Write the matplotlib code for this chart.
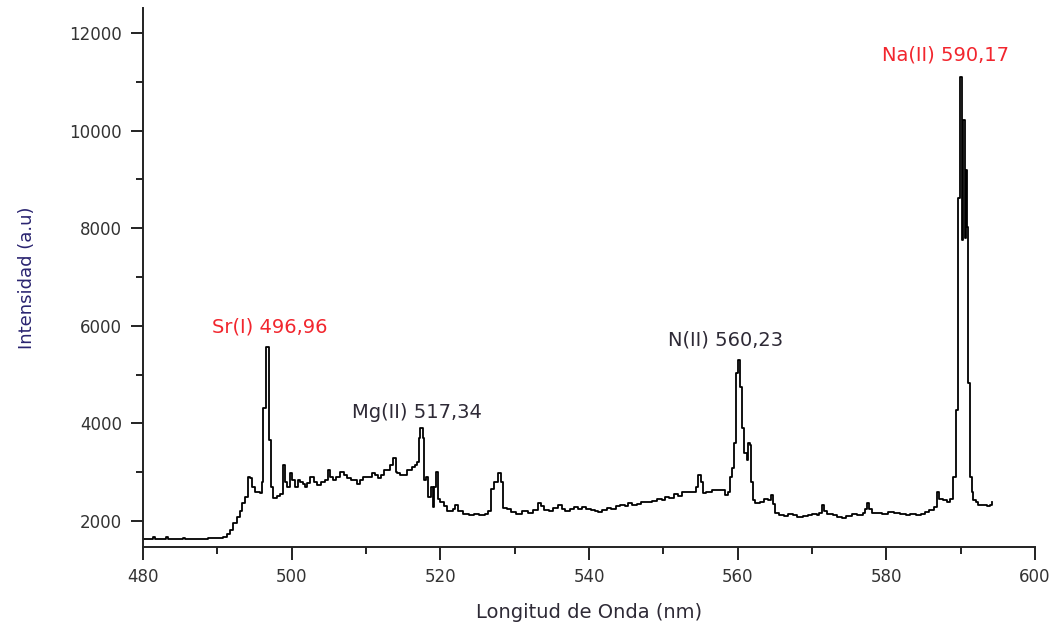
import matplotlib.pyplot as plt
from matplotlib.ticker import MultipleLocator

# ===== Spectrum (wavelength in nm, intensity in a.u.) =====
wavelength = [
    480.0, 481.2, 481.4, 481.6, 482.9, 483.1, 483.3, 485.2, 485.4, 485.6,
    487.0, 488.6, 488.8, 489.0, 490.0, 490.8, 491.3, 491.7, 492.1, 492.6,
    493.0, 493.3, 493.7, 494.1, 494.4, 494.7, 495.0, 495.7, 496.0, 496.2,
    496.5, 496.95, 497.2, 497.5, 498.0, 498.4, 498.8, 499.1, 499.4, 499.8,
    500.1, 500.4, 500.8, 501.1, 501.5, 501.8, 502.1, 502.5, 503.0, 503.4,
    504.0, 504.5, 504.9, 505.2, 505.6, 506.0, 506.5, 507.0, 507.4, 508.0,
    508.8, 509.2, 509.6, 510.2, 510.8, 511.2, 511.6, 512.0, 512.4, 512.8,
    513.2, 513.6, 514.0, 514.2, 514.6, 515.0, 515.5, 516.2, 516.6, 516.9,
    517.1, 517.3, 517.6, 517.8, 518.1, 518.4, 518.7, 519.0, 519.2, 519.4,
    519.7, 520.0, 520.5, 520.9, 521.3, 521.7, 522.0, 522.4, 523.0, 523.8,
    524.5, 525.2, 526.0, 526.4, 526.8, 527.2, 527.5, 527.8, 528.1, 528.4,
    529.0, 529.5, 530.2, 531.0, 531.8, 532.4, 533.1, 533.5, 534.0, 534.6,
    535.2, 535.8, 536.3, 536.8, 537.4, 538.0, 538.5, 539.0, 539.6, 540.2,
    540.8, 541.2, 541.8, 542.4, 543.0, 543.6, 544.2, 544.8, 545.2, 545.8,
    546.4, 547.0, 547.9, 548.5, 549.2, 549.8, 550.2, 550.8, 551.4, 552.0,
    552.5, 553.2, 553.9, 554.4, 554.7, 555.0, 555.3, 555.8, 556.5, 557.2,
    557.9, 558.3, 558.7, 559.0, 559.2, 559.5, 559.8, 560.0, 560.3, 560.6,
    560.9, 561.2, 561.4, 561.6, 561.8, 562.0, 562.3, 563.0, 563.6, 564.1,
    564.5, 564.8, 565.0, 565.5, 566.2, 566.8, 567.4, 568.0, 568.8, 569.5,
    570.0, 570.6, 571.0, 571.3, 571.6, 572.0, 572.8, 573.4, 574.0, 574.6,
    575.4, 576.0, 576.8, 577.1, 577.4, 577.7, 578.1, 578.8, 579.4, 580.2,
    581.0, 581.8, 582.6, 583.2, 584.0, 584.6, 585.2, 585.8, 586.4, 586.8,
    587.1, 587.6, 588.2, 588.6, 589.0, 589.3, 589.7, 589.9, 590.2, 590.35,
    590.6, 590.7, 590.9, 591.0, 591.3, 591.5, 591.7, 592.0, 592.3, 593.0,
    593.5, 594.0, 594.2,
]
intensity = [
    1640, 1640, 1670, 1640, 1640, 1665, 1640, 1640, 1660, 1640,
    1635, 1635, 1660, 1650, 1660, 1680, 1730, 1815, 1960, 2080,
    2200, 2370, 2500, 2900, 2880, 2700, 2600, 2575, 2800, 4315,
    5565, 3660, 2700, 2470, 2520, 2560, 3150, 2800, 2700, 2985,
    2850, 2700, 2850, 2800, 2750, 2700, 2780, 2900, 2800, 2740,
    2800, 2850, 3045, 2900, 2850, 2900, 3005, 2950, 2880, 2850,
    2760, 2850, 2900, 2900, 2985, 2950, 2880, 2950, 3050, 3050,
    3150, 3290, 3000, 2985, 2950, 2950, 3050, 3100, 3150, 3200,
    3700, 3900, 3700, 2840, 2900, 2500, 2700, 2290, 2700, 3000,
    2450, 2390, 2300, 2200, 2200, 2250, 2330, 2200, 2150, 2120,
    2150, 2120, 2150, 2200, 2650, 2800, 2800, 2985, 2800, 2265,
    2250, 2180, 2150, 2200, 2160, 2220, 2370, 2300, 2220, 2200,
    2260, 2330, 2250, 2200, 2250, 2280, 2240, 2290, 2250, 2230,
    2200, 2185, 2230, 2260, 2250, 2300, 2320, 2300, 2370, 2330,
    2350, 2380, 2390, 2400, 2460, 2420, 2490, 2470, 2550, 2520,
    2595, 2600, 2595, 2700, 2940, 2800, 2575, 2600, 2635, 2630,
    2635, 2530, 2600, 2900, 3085, 3600, 5030, 5300, 4745, 3905,
    3395, 3250, 3600, 3550, 2800, 2430, 2370, 2380, 2450, 2440,
    2530, 2350, 2165, 2120, 2100, 2150, 2120, 2090, 2100, 2120,
    2150, 2130, 2160, 2330, 2200, 2140, 2120, 2090, 2060, 2100,
    2140, 2130, 2160, 2250, 2370, 2240, 2165, 2170, 2150, 2185,
    2170, 2150, 2120, 2150, 2130, 2150, 2180, 2230, 2280, 2595,
    2450, 2420, 2390, 2450, 2900, 4275, 8620, 11100, 7760, 10215,
    7800, 9190, 8025, 4830, 2900, 2600, 2430, 2380, 2330, 2330,
    2300, 2330, 2390,
]

# ===== Line identifications =====
peak_labels = ["Sr(I) 496,96", "Mg(II) 517,34", "N(II) 560,23", "Na(II) 590,17"]
label_x = [497.1, 516.9, 558.3, 587.9]
label_y = [5975, 4233, 5709, 11548]
label_colors = ["#f2262e", "#2e2a36", "#2e2a36", "#f2262e"]

fig = plt.figure(figsize=(10.58, 6.31), dpi=100)
ax = fig.add_axes([0.1352, 0.1331, 0.8431, 0.8542])

ax.plot(wavelength, intensity, color="black", linewidth=1.3, drawstyle="steps-post")

for text, x, y, c in zip(peak_labels, label_x, label_y, label_colors):
    ax.text(x, y, text, color=c, fontsize=14, ha="center", va="center")

ax.set_xlim(480, 600)
ax.set_ylim(1467, 12510)
ax.xaxis.set_major_locator(MultipleLocator(20))
ax.xaxis.set_minor_locator(MultipleLocator(10))
ax.yaxis.set_major_locator(MultipleLocator(2000))
ax.yaxis.set_minor_locator(MultipleLocator(1000))

ax.spines["top"].set_visible(False)
ax.spines["right"].set_visible(False)
for side in ["left", "bottom"]:
    ax.spines[side].set_linewidth(1.4)
    ax.spines[side].set_color("#222222")

ax.tick_params(which="major", length=9, width=1.4, color="#222222",
               labelsize=12, labelcolor="#333333", pad=6)
ax.tick_params(which="minor", length=5, width=1.4, color="#222222")

ax.set_xlabel("Longitud de Onda (nm)", fontsize=14, color="#2e2a36", labelpad=12)
ax.set_ylabel("Intensidad (a.u)", fontsize=13, color="#2a2470", labelpad=24)

fig.savefig("out.png", dpi=100)
